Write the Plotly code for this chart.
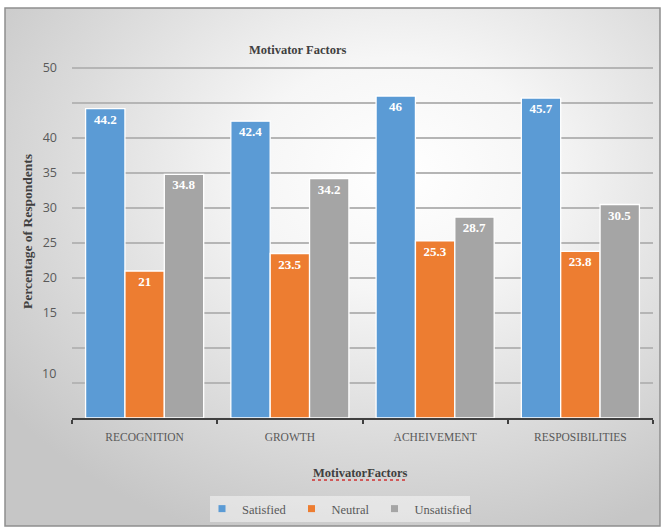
import base64
import plotly.graph_objects as go

categories = ["RECOGNITION", "GROWTH", "ACHEIVEMENT", "RESPOSIBILITIES"]
satisfied = [44.2, 42.4, 46, 45.7]
neutral = [21, 23.5, 25.3, 23.8]
unsatisfied = [34.8, 34.2, 28.7, 30.5]
series_names = ["Satisfied", "Neutral", "Unsatisfied"]
series_colors = ["#5b9bd5", "#ed7d31", "#a5a5a5"]
y_tickvals = [0, 5, 10, 15, 20, 25, 30, 35, 40, 45, 50]
y_ticktext = ["", "", "", "15", "20", "25", "30", "35", "40", "", "50"]
stray_label = ("10", 6.4)

W, H = 662, 528
L, R, T, B = 72, 9, 66, 110
PW, PH = W - L - R, H - T - B
Y_TOP = 50 * PH / 350.0


def px(x):
    return (x - L) / PW


def py(y):
    return (H - B - y) / PH


SERIF = "Liberation Serif, DejaVu Serif, serif"
SANS = "Open Sans, Liberation Sans, sans-serif"

fig = go.Figure()
for name, vals, col in zip(series_names, [satisfied, neutral, unsatisfied], series_colors):
    fig.add_trace(go.Bar(
        name=name, x=categories, y=vals, showlegend=False,
        marker=dict(color=col, line=dict(color="white", width=1.3)),
        texttemplate="%{y}", textposition="inside", insidetextanchor="end",
        textangle=0,
        textfont=dict(family=SERIF, size=13, color="white", weight="bold"),
    ))
# legend entries with small square swatches
for name, col in zip(series_names, series_colors):
    fig.add_trace(go.Scatter(
        name=name, x=[None], y=[None], mode="markers",
        marker=dict(symbol="square", size=7, color=col), showlegend=True,
    ))

svg = """<svg xmlns='http://www.w3.org/2000/svg' width='655' height='518' viewBox='0 0 655 518' preserveAspectRatio='none'>
<defs><radialGradient id='g' cx='0.6' cy='0.32' r='0.75' fx='0.6' fy='0.32'>
<stop offset='0' stop-color='#ffffff'/>
<stop offset='0.3' stop-color='#f6f6f6'/>
<stop offset='0.7' stop-color='#dadada'/>
<stop offset='1' stop-color='#c6c6c6'/>
</radialGradient></defs>
<rect x='0' y='0' width='655' height='518' fill='url(#g)'/></svg>"""
uri = "data:image/svg+xml;base64," + base64.b64encode(svg.encode()).decode()

fx0, fy0, fx1, fy1 = 5, 8, 660, 526
fig.add_layout_image(dict(
    source=uri, xref="paper", yref="paper",
    x=px(fx0), y=py(fy0), sizex=px(fx1) - px(fx0), sizey=py(fy0) - py(fy1),
    xanchor="left", yanchor="top", sizing="stretch", layer="below",
))
fig.add_shape(type="rect", xref="paper", yref="paper",
              x0=px(fx0), y0=py(fy1), x1=px(fx1), y1=py(fy0),
              line=dict(color="#8f8f8f", width=1.5), layer="above")
# legend backdrop
fig.add_shape(type="rect", xref="paper", yref="paper",
              x0=px(210), y0=py(522), x1=px(470), y1=py(496),
              fillcolor="rgba(255,255,255,0.45)", line=dict(width=0), layer="below")

fig.add_annotation(text="<b>Motivator Factors</b>", xref="paper", yref="paper",
                   x=px(297), y=py(50), showarrow=False, xanchor="center", yanchor="middle",
                   font=dict(family=SERIF, size=12.5, color="#404040"))
fig.add_annotation(text="<b>Percentage of Respondents</b>", xref="paper", yref="paper",
                   x=px(27), y=py(232), showarrow=False, textangle=-90,
                   xanchor="center", yanchor="middle",
                   font=dict(family=SERIF, size=13.5, color="#404040"))
fig.add_annotation(text="<b>MotivatorFactors</b>", xref="paper", yref="paper",
                   x=px(360), y=py(473), showarrow=False, xanchor="center", yanchor="middle",
                   font=dict(family=SERIF, size=12.5, color="#404040"))
fig.add_shape(type="line", xref="paper", yref="paper",
              x0=px(312), x1=px(408), y0=py(480), y1=py(480),
              line=dict(color="#d03030", width=1.3, dash="dot"))
fig.add_annotation(text=stray_label[0], xref="paper", yref="y",
                   x=px(58), y=stray_label[1], xanchor="right", yanchor="middle",
                   showarrow=False,
                   font=dict(family=SANS, size=12.5, color="#595959"))

fig.update_layout(
    width=W, height=H, margin=dict(l=L, r=R, t=T, b=B, autoexpand=False),
    paper_bgcolor="white", plot_bgcolor="rgba(0,0,0,0)",
    barmode="group", bargap=0.187, bargroupgap=0,
    showlegend=True,
    legend=dict(orientation="h", x=px(340), xanchor="center", y=py(509), yanchor="middle",
                bgcolor="rgba(0,0,0,0)", font=dict(family=SERIF, size=12.5, color="#595959"),
                itemwidth=30, traceorder="normal"),
    xaxis=dict(showline=True, linecolor="#404040", linewidth=2,
               ticks="outside", tickson="boundaries", ticklen=4, tickcolor="#404040",
               tickwidth=1.5, ticklabelstandoff=7,
               tickfont=dict(family=SERIF, size=11.5, color="#595959"),
               showgrid=False, fixedrange=True, automargin=False),
    yaxis=dict(range=[0, Y_TOP], tickmode="array", tickvals=y_tickvals, ticktext=y_ticktext,
               showgrid=True, gridcolor="#b5b5b5", gridwidth=1.5, zeroline=False,
               showline=False, ticks="", ticklabelstandoff=14,
               tickfont=dict(family=SANS, size=12.5, color="#595959"), fixedrange=True,
               automargin=False),
)

fig.write_html("out.html")
